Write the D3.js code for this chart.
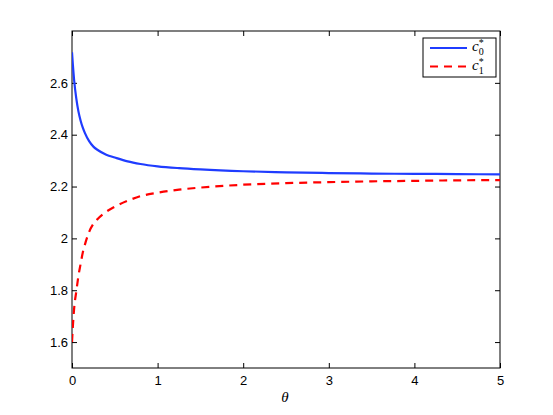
<!DOCTYPE html>
<html>
<head>
<meta charset="utf-8">
<script src="https://cdn.jsdelivr.net/npm/d3@7"></script>
<style>
  html, body { margin: 0; padding: 0; background: #fff; }
  svg { display: block; }
</style>
</head>
<body>
<svg id="chart" width="553" height="415"></svg>
<script>
// ---- data ----
const theta = [0, 0.01, 0.025, 0.05, 0.075, 0.1, 0.125, 0.15, 0.2, 0.25, 0.3, 0.4, 0.5, 0.65, 0.8, 1, 1.25, 1.5, 2, 2.5, 3, 3.5, 4, 4.5, 5];
const c0 = [2.718, 2.67, 2.61, 2.54, 2.49, 2.455, 2.428, 2.407, 2.375, 2.354, 2.341, 2.323, 2.312, 2.297, 2.287, 2.278, 2.271, 2.266, 2.259, 2.255, 2.252, 2.250, 2.249, 2.248, 2.247];
const c1 = [1.60, 1.66, 1.73, 1.795, 1.855, 1.90, 1.944, 1.975, 2.025, 2.056, 2.075, 2.103, 2.122, 2.145, 2.163, 2.176, 2.188, 2.196, 2.207, 2.213, 2.217, 2.220, 2.222, 2.224, 2.225];
const xTicks = [0, 1, 2, 3, 4, 5];
const yTicks = [1.6, 1.8, 2.0, 2.2, 2.4, 2.6];
const xDomain = [0, 5];
const yDomain = [1.5, 2.8];

(function () {
// ---- layout ----
const svg = d3.select("#chart");
const mLeft = 72, mRight = 500, mTop = 31, mBottom = 368;

const x = d3.scaleLinear().domain(xDomain).range([mLeft, mRight]);
const y = d3.scaleLinear().domain(yDomain).range([mBottom, mTop]);

const tickFont = "'Liberation Sans', Arial, Helvetica, sans-serif";

// axes (ticks inward)
const gx = svg.append("g").attr("transform", `translate(0,${mBottom})`)
  .call(d3.axisBottom(x).tickValues(xTicks).tickFormat(d3.format("d")).tickSize(-5).tickPadding(8));
const gxTop = svg.append("g").attr("transform", `translate(0,${mTop})`)
  .call(d3.axisTop(x).tickValues(xTicks).tickFormat("").tickSize(-5));
const gy = svg.append("g").attr("transform", `translate(${mLeft},0)`)
  .call(d3.axisLeft(y).tickValues(yTicks).tickFormat(d => d === 2 ? "2" : d3.format(".1f")(d)).tickSize(-5).tickPadding(4));
const gyRight = svg.append("g").attr("transform", `translate(${mRight},0)`)
  .call(d3.axisRight(y).tickValues(yTicks).tickFormat("").tickSize(-5));

[gx, gxTop, gy, gyRight].forEach(g => {
  g.select(".domain").remove();
  g.selectAll(".tick line").attr("stroke", "#000").attr("stroke-width", 1);
  g.selectAll(".tick text").attr("fill", "#000").style("font-family", tickFont).style("font-size", "13px");
});

// frame
svg.append("rect")
  .attr("x", mLeft).attr("y", mTop)
  .attr("width", mRight - mLeft).attr("height", mBottom - mTop)
  .attr("fill", "none").attr("stroke", "#000").attr("stroke-width", 1);

// lines
svg.append("clipPath").attr("id", "clip")
  .append("rect").attr("x", mLeft).attr("y", mTop).attr("width", mRight - mLeft).attr("height", mBottom - mTop);

const line = (vals) => d3.line()
  .x((d, i) => x(theta[i]))
  .y((d) => y(d))
  .curve(d3.curveMonotoneX)(vals);

svg.append("path").attr("d", line(c0))
  .attr("fill", "none").attr("stroke", "#1f3cff").attr("stroke-width", 2.2)
  .attr("clip-path", "url(#clip)");
svg.append("path").attr("d", line(c1))
  .attr("fill", "none").attr("stroke", "#ff0000").attr("stroke-width", 2.2)
  .attr("stroke-dasharray", "8,6")
  .attr("clip-path", "url(#clip)");

// x label
const serif = "'Liberation Serif', 'DejaVu Serif', serif";
svg.append("text").attr("x", 285).attr("y", 402)
  .attr("text-anchor", "middle")
  .style("font-family", serif)
  .style("font-style", "italic").style("font-size", "15px")
  .text("θ");

// legend
const lg = svg.append("g");
lg.append("rect").attr("x", 423).attr("y", 38).attr("width", 73).attr("height", 39)
  .attr("fill", "#fff").attr("stroke", "#000").attr("stroke-width", 1);
lg.append("line").attr("x1", 430).attr("x2", 467).attr("y1", 48).attr("y2", 48)
  .attr("stroke", "#1f3cff").attr("stroke-width", 2.2);
lg.append("line").attr("x1", 430).attr("x2", 467).attr("y1", 66.5).attr("y2", 66.5)
  .attr("stroke", "#ff0000").attr("stroke-width", 2.2).attr("stroke-dasharray", "8,6");

function mathLabel(yBase, sub) {
  const t = lg.append("text").attr("x", 472).attr("y", yBase)
    .style("font-family", serif).style("font-size", "15px");
  t.append("tspan").style("font-style", "italic").text("c");
  t.append("tspan").attr("dy", -5).style("font-size", "10px").text("*");
  t.append("tspan").attr("dx", -5).attr("dy", 9).style("font-size", "10px").text(sub);
}
mathLabel(51, "0");
mathLabel(69.5, "1");
})();
</script>
</body>
</html>
